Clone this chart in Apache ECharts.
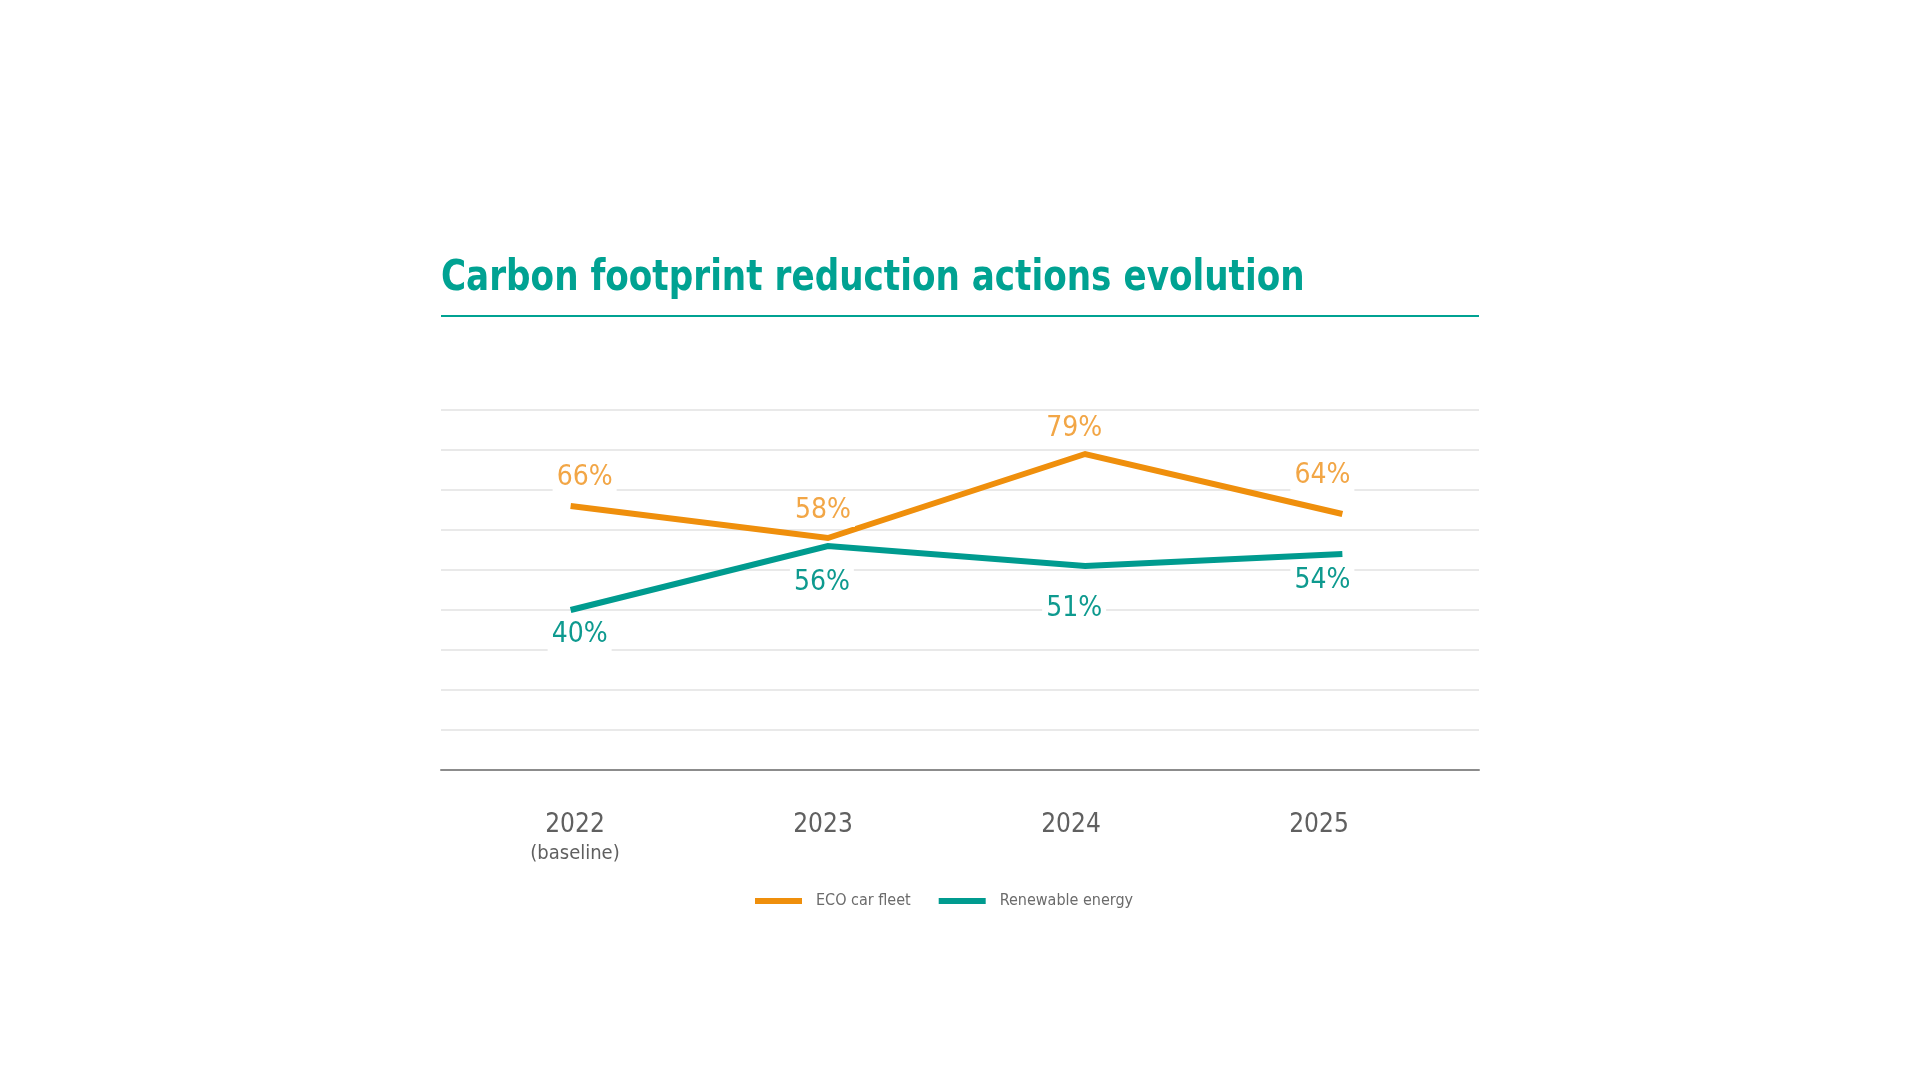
<!DOCTYPE html>
<html><head><meta charset="utf-8">
<script src="https://cdn.jsdelivr.net/npm/echarts@6/dist/echarts.min.js"></script>
<style>html,body{margin:0;padding:0;background:#fff}#c{width:1920px;height:1080px}</style>
</head><body><div id="c"></div>
<script>
const categories = ['2022', '2023', '2024', '2025'];
const categoryNotes = ['(baseline)', '', '', ''];
const seriesNames = ['ECO car fleet', 'Renewable energy'];
const ecoCarFleet = [66, 58, 79, 64];
const renewableEnergy = [40, 56, 51, 54];
const yTicks = [0, 10, 20, 30, 40, 50, 60, 70, 80, 90];
const titleText = 'Carbon footprint reduction actions evolution';

// styling only (label nudges in px)
const ecoLabelOffsets = [[14, -28], [-5, -27], [-11, -25], [-20, -38]];
const renLabelOffsets = [[9, 25], [-6, 37], [-11, 43], [-20, 27]];

const FONT = '"DejaVu Sans Condensed", "Liberation Sans Narrow", sans-serif';
const ORANGE = '#EF8F0C', ORANGE_LBL = '#F2A646', TEAL = '#009B8F', TEAL_LBL = '#0E9A8F', TITLE = '#00A292';

const chart = echarts.init(document.getElementById('c'), null, {renderer: 'canvas'});
const gridTop = 410, gridHeight = 360;
const yMin = yTicks[0], yMax = yTicks[yTicks.length - 1];

function mkData(vals, offs) {
  return vals.map((v, i) => ({
    value: v,
    label: {offset: offs[i]}
  }));
}

chart.setOption({
  animation: false,
  backgroundColor: '#fff',
  graphic: [{
    type: 'text', x: 441, y: 279, scaleX: 0.885, scaleY: 1,
    style: {text: titleText, fontFamily: FONT, fontWeight: 'bold', fontSize: 43, fill: TITLE,
            textAlign: 'left', textVerticalAlign: 'middle', verticalAlign: 'middle'}
  }, {
    type: 'rect', left: 441, top: 315, shape: {width: 1038, height: 2},
    style: {fill: TITLE}
  }],
  legend: {
    data: seriesNames,
    left: 755, top: 893, padding: 0,
    icon: 'rect', itemWidth: 47, itemHeight: 6, itemGap: 28,
    textStyle: {fontFamily: FONT, fontSize: 16, color: '#6b6b6b', padding: [0, 0, 0, 9]}
  },
  grid: [
    {left: 441, right: 441, top: gridTop, height: gridHeight},
    {left: 442, right: 449, top: gridTop, height: gridHeight},
    {left: 451, right: 477, top: gridTop, height: gridHeight}
  ],
  xAxis: [
    {gridIndex: 0, type: 'category', data: categories, boundaryGap: true,
     axisLine: {lineStyle: {color: '#8c8c8c', width: 2}}, axisTick: {show: false}, axisLabel: {show: false}},
    {gridIndex: 1, type: 'category', data: categories, boundaryGap: true, show: false},
    {gridIndex: 2, type: 'category', data: categories, boundaryGap: true,
     axisLine: {show: false}, axisTick: {show: false},
     axisLabel: {
       margin: 39,
       formatter: (v, i) => categoryNotes[i] ? '{a|' + v + '}\n{b|' + categoryNotes[i] + '}' : '{a|' + v + '}',
       rich: {
         a: {fontFamily: FONT, fontSize: 26, color: '#606060', lineHeight: 32},
         b: {fontFamily: FONT, fontSize: 20, color: '#606060', lineHeight: 26}
       }
     }}
  ],
  yAxis: [
    {gridIndex: 0, type: 'value', min: yMin, max: yMax, interval: 10,
     axisLine: {show: false}, axisTick: {show: false}, axisLabel: {show: false},
     splitLine: {lineStyle: {color: '#e2e2e2', width: 1.5}}},
    {gridIndex: 1, type: 'value', min: yMin, max: yMax, interval: 10, show: false, splitLine: {show: false}},
    {gridIndex: 2, type: 'value', min: yMin, max: yMax, interval: 10, show: false, splitLine: {show: false}}
  ],
  series: [
    {
      name: seriesNames[0], type: 'line', xAxisIndex: 1, yAxisIndex: 1,
      data: mkData(ecoCarFleet, ecoLabelOffsets),
      symbol: 'circle', symbolSize: 0.1, showSymbol: true,
      itemStyle: {color: ORANGE},
      lineStyle: {color: ORANGE, width: 6, cap: 'butt', join: 'miter'},
      label: {show: true, position: 'inside', formatter: '{c}%', fontFamily: FONT, fontSize: 28,
              color: ORANGE_LBL, backgroundColor: '#fff', padding: [2, 4]},
      z: 3
    },
    {
      name: seriesNames[1], type: 'line', xAxisIndex: 1, yAxisIndex: 1,
      data: mkData(renewableEnergy, renLabelOffsets),
      symbol: 'circle', symbolSize: 0.1, showSymbol: true,
      itemStyle: {color: TEAL},
      lineStyle: {color: TEAL, width: 6, cap: 'butt', join: 'miter'},
      label: {show: true, position: 'inside', formatter: '{c}%', fontFamily: FONT, fontSize: 28,
              color: TEAL_LBL, backgroundColor: '#fff', padding: [2, 4]},
      z: 2
    }
  ]
});
</script>
</body></html>
